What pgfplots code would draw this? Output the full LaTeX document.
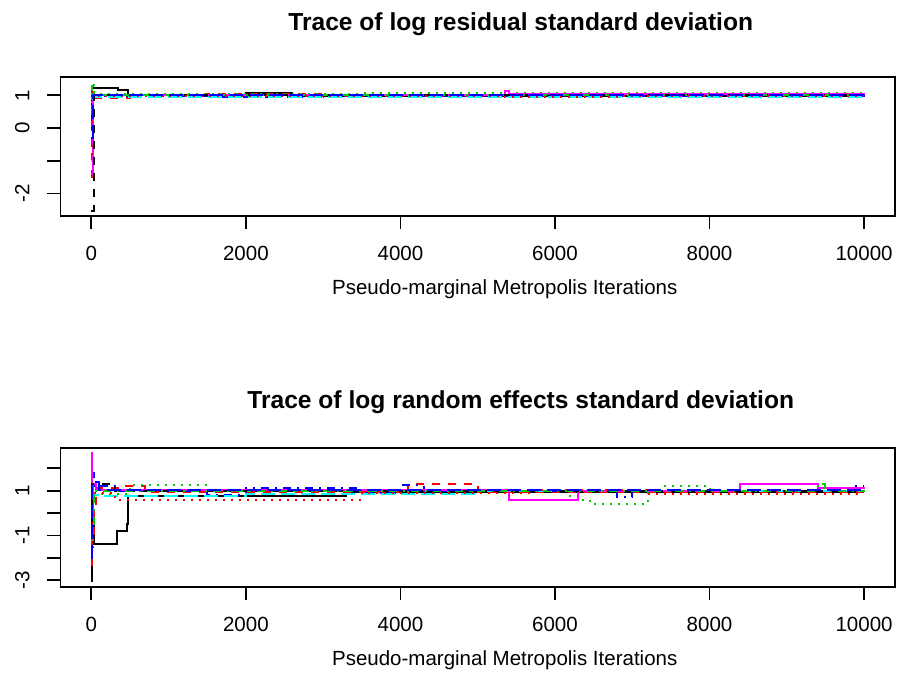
\documentclass[border=0pt]{standalone}
\usepackage{fontspec}
\setmainfont{Liberation Sans}
\usepackage{pgfplots}
\pgfplotsset{compat=1.18}
\definecolor{rgreen}{RGB}{0,205,0}
\definecolor{rred}{RGB}{255,0,0}
\definecolor{rblue}{RGB}{0,0,255}
\definecolor{rcyan}{RGB}{0,255,255}
\definecolor{rmag}{RGB}{255,0,255}
\pgfplotsset{
  rbase/.style={
    scale only axis, width=834.5pt,
    xmin=-399, xmax=10400,
    tick align=outside, major tick length=13pt,
    axis line style={line width=1.8pt},
    tick style={line width=1.8pt, black},
    xtick={0,2000,4000,6000,8000,10000},
    xticklabels={0,2000,4000,6000,8000,10000},
    scaled x ticks=false, scaled y ticks=false,
    xtick pos=lower, ytick pos=left,
    tick label style={font=\fontsize{20.5}{24}\selectfont},
    xticklabel style={anchor=base},
    xticklabel shift=32pt,
    yticklabel style={rotate=90, anchor=base},
    yticklabel shift=18pt,
    label style={font=\fontsize{20.5}{24}\selectfont},
    xlabel style={at={(axis description cs:0.5,0)}, anchor=base, yshift=-79pt, xshift=27pt},
    title style={font=\fontsize{24.6}{29}\selectfont\bfseries, at={(axis description cs:0.5,1)}, anchor=base, xshift=43pt},
    xlabel={Pseudo-marginal Metropolis Iterations},
    every axis plot/.append style={line width=2pt, const plot},
  },
  ch1/.style={black},
  ch2/.style={rred, dash pattern=on 8pt off 8pt},
  ch3/.style={rgreen, dash pattern=on 2pt off 6pt},
  ch4/.style={rblue, dash pattern=on 2pt off 6pt on 8pt off 6pt},
  ch5/.style={rcyan, dash pattern=on 14pt off 6pt},
  ch6/.style={rmag},
  ch7/.style={black, dash pattern=on 8pt off 8pt},
  ch8/.style={rred, dash pattern=on 2pt off 6pt},
  ch9/.style={rgreen, dash pattern=on 2pt off 6pt on 8pt off 6pt},
  ch10/.style={rblue, dash pattern=on 14pt off 6pt},
}
\begin{document}
\begin{tikzpicture}[x=1pt,y=1pt]
\useasboundingbox (0,0) rectangle (898,675);
% ---------------- top panel ----------------
\begin{axis}[rbase, at={(60.5pt,459pt)}, anchor=south west, height=139pt,
  ymin=-2.69, ymax=1.56,
  ytick={-2,-1,0,1}, yticklabels={-2,,0,1},
  title={Trace of log residual standard deviation},
  title style={yshift=40pt}]
\addplot[ch1] coordinates {(1,0.2) (10,1.22) (340,1.16) (480,1.0) (2000,1.06) (2600,0.98) (10000,1.03)};
\addplot[ch2] coordinates {(1,-1.5) (12,1.15) (60,0.93) (500,1.0) (1500,1.03) (3000,1.0) (10000,1.0)};
\addplot[ch3] coordinates {(1,0.3) (5,1.40) (30,1.05) (3500,1.06) (10000,1.06)};
\addplot[ch4] coordinates {(1,0.0) (15,0.97) (1500,0.95) (3000,0.98) (10000,0.97)};
\addplot[ch5] coordinates {(1,-1.0) (20,0.95) (10000,0.93)};
\addplot[ch6] coordinates {(1,-1.4) (25,1.0) (5350,1.12) (5400,1.03) (10000,1.01)};
\addplot[ch7] coordinates {(1,-2.53) (30,1.0) (10000,1.04)};
\addplot[ch8] coordinates {(1,-0.8) (15,1.1) (100,0.98) (5300,0.94) (6800,0.98) (10000,0.98)};
\addplot[ch9] coordinates {(1,0.9) (10,1.3) (40,1.02) (10000,1.04)};
\addplot[ch10] coordinates {(1,-0.3) (20,1.0) (10000,0.98)};
\end{axis}
% ---------------- bottom panel ----------------
\begin{axis}[rbase, at={(60.5pt,88.3pt)}, anchor=south west, height=138.4pt,
  ymin=-3.29, ymax=2.89,
  ytick={-3,-2,-1,0,1,2}, yticklabels={-3,,-1,,1,},
  title={Trace of log random effects standard deviation},
  title style={yshift=33.5pt}]
\addplot[ch1] coordinates {(1,-3.05) (6,-0.3) (40,-1.4) (330,-0.8) (460,-0.5) (480,0.75) (3300,0.95) (10000,0.95)};
\addplot[ch2] coordinates {(1,-2.3) (10,-1.1) (30,0.3) (60,1.1) (400,1.2) (700,0.95) (4100,1.3) (5000,0.95) (10000,0.9)};
\addplot[ch3] coordinates {(1,-1.2) (20,0.5) (40,0.85) (500,1.25) (1500,1.0) (6200,0.6) (6450,0.4) (7200,1.0) (7400,1.2) (8000,1.0) (10000,1.0)};
\addplot[ch4] coordinates {(1,-0.5) (15,1.8) (40,1.2) (300,1.0) (1500,0.8) (2000,1.1) (3500,0.9) (4000,1.25) (4300,1.0) (6800,0.7) (7000,1.0) (9900,1.2) (10000,1.2)};
\addplot[ch5] coordinates {(1,0.5) (20,0.8) (100,0.75) (2000,0.85) (5000,1.0) (10000,1.0)};
\addplot[ch6] coordinates {(1,2.69) (8,0.0) (25,1.3) (60,1.05) (5400,0.6) (6300,1.0) (8400,1.3) (9400,1.1) (10000,1.15)};
\addplot[ch7] coordinates {(1,-1.8) (10,1.3) (300,1.0) (10000,1.0)};
\addplot[ch8] coordinates {(1,-1.5) (20,0.9) (300,0.6) (3500,0.9) (5700,1.05) (7200,0.85) (10000,0.85)};
\addplot[ch9] coordinates {(1,-0.8) (30,1.0) (9400,1.3) (9500,1.0) (10000,1.05)};
\addplot[ch10] coordinates {(1,-2.0) (10,1.4) (100,1.05) (10000,1.05)};
\end{axis}
\end{tikzpicture}
\end{document}
